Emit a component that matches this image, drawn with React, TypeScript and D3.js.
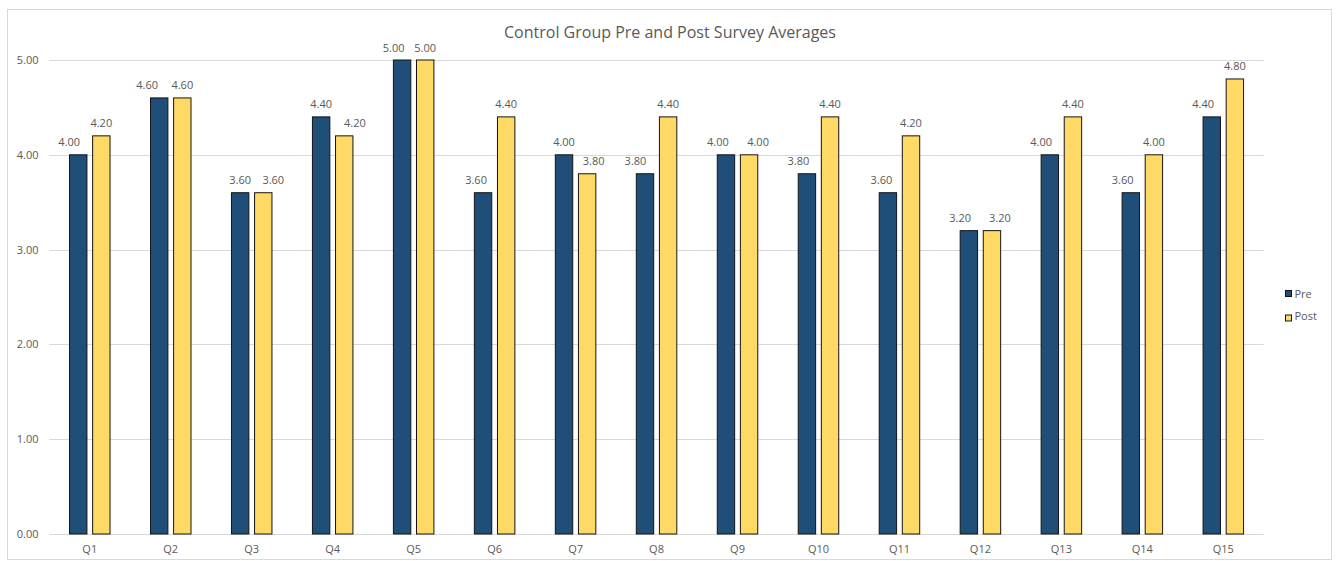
import React from "react";
import * as d3 from "d3";

const categories = ["Q1","Q2","Q3","Q4","Q5","Q6","Q7","Q8","Q9","Q10","Q11","Q12","Q13","Q14","Q15"];
const preValues = [4.0,4.6,3.6,4.4,5.0,3.6,4.0,3.8,4.0,3.8,3.6,3.2,4.0,3.6,4.4];
const postValues = [4.2,4.6,3.6,4.2,5.0,4.4,3.8,4.4,4.0,4.4,4.2,3.2,4.4,4.0,4.8];
const yTicks = [0,1,2,3,4,5];
const seriesNames = ["Pre","Post"];
const seriesColors = ["#1F4E79","#FFD966"];

// Horizontal nudges applied to the value labels so neighbouring labels don't collide
const preLabelNudge = [-9,-12,0,0,-8.5,-7,0,-9.5,-8,-8.5,-6.5,-8.7,-8.7,-8.2,-8.6];
const postLabelNudge = [0,0,10,10.7,0,0,6.5,0,9,0,0,8,0,0,0];

const W = 1337, H = 561;
const plot = { left: 49.3, right: 1263.8, top: 60, bottom: 534 };
const font = "'Open Sans', 'Liberation Sans', sans-serif";

export default function App() {
  const x = d3.scaleBand<string>().domain(categories).range([plot.left, plot.right]);
  const y = d3.scaleLinear().domain([0, 5]).range([plot.bottom, plot.top]);
  const barW = 17.4;
  const offsets = [-11.55, 11.55];
  const series = [preValues, postValues];
  const nudges = [preLabelNudge, postLabelNudge];

  return (
    <svg width={W} height={H} style={{ position: "absolute", left: 0, top: 0 }}>
      <rect x={7.5} y={9.5} width={1324} height={550} fill="#fff" stroke="#d9d9d9" />
      <text x={670} y={38} textAnchor="middle" fontFamily={font} fontSize={16} fill="#595959">
        Control Group Pre and Post Survey Averages
      </text>
      {yTicks.map(t => (
        <g key={t}>
          <line x1={plot.left} x2={plot.right} y1={Math.round(y(t)) + 0.5} y2={Math.round(y(t)) + 0.5}
            stroke="#d9d9d9" strokeWidth={1} />
          <text x={38.5} y={y(t) + 4} textAnchor="end" fontFamily={font} fontSize={11} fill="#595959">
            {d3.format(".2f")(t)}
          </text>
        </g>
      ))}
      {categories.map((c, i) => {
        const cx = (x(c) as number) + x.bandwidth() / 2;
        return (
          <g key={c}>
            {series.map((vals, s) => {
              const bc = cx + offsets[s];
              const by = y(vals[i]);
              return (
                <g key={s}>
                  <rect x={bc - barW / 2} y={by} width={barW} height={plot.bottom - by}
                    fill={seriesColors[s]} stroke="#141414" strokeWidth={1} />
                  <text x={bc + nudges[s][i]} y={by - 8.5} textAnchor="middle" fontFamily={font}
                    fontSize={11} fill="#595959">{d3.format(".2f")(vals[i])}</text>
                </g>
              );
            })}
            <text x={cx} y={553} textAnchor="middle" fontFamily={font} fontSize={11} fill="#595959">{c}</text>
          </g>
        );
      })}
      {seriesNames.map((n, s) => (
        <g key={n}>
          <rect x={1285.5} y={290.5 + s * 24.5} width={6} height={6} fill={seriesColors[s]} stroke="#141414" strokeWidth={1} />
          <text x={1294.5} y={297.7 + s * 22.5} fontFamily={font} fontSize={11} fill="#595959">{n}</text>
        </g>
      ))}
    </svg>
  );
}
